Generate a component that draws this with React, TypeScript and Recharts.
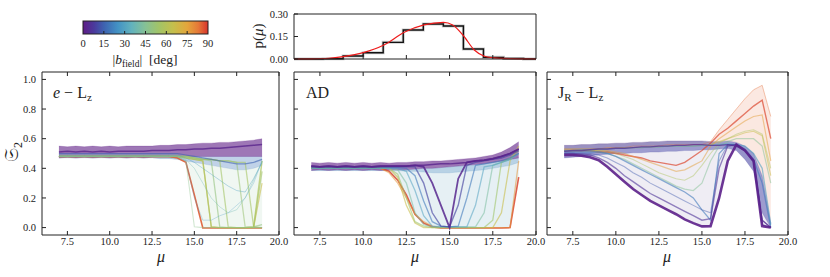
import React from 'react'
import { Area, ComposedChart, Line, XAxis, YAxis } from 'recharts'

// mu grid shared by every curve
const MU = [7, 7.5, 8, 8.5, 9, 9.5, 10, 10.5, 11, 11.5, 12, 12.5, 13, 13.5, 14, 14.5, 15, 15.5, 16, 16.5, 17, 17.5, 18, 18.5, 19]

// panel 1: e - Lz
const E_BAND_LO = [0.47, 0.475, 0.47, 0.475, 0.47, 0.475, 0.47, 0.475, 0.47, 0.475, 0.47, 0.475, 0.475, 0.475, 0.475, 0.48, 0.48, 0.48, 0.48, 0.48, 0.48, 0.48, 0.48, 0.48, 0.48]
const E_BAND_HI = [0.55, 0.545, 0.55, 0.545, 0.55, 0.545, 0.55, 0.545, 0.55, 0.55, 0.55, 0.55, 0.555, 0.555, 0.56, 0.56, 0.565, 0.57, 0.57, 0.575, 0.575, 0.58, 0.585, 0.59, 0.6]
const E_BLUE_LO = [0.47, 0.47, 0.47, 0.47, 0.47, 0.47, 0.47, 0.47, 0.47, 0.47, 0.47, 0.47, 0.465, 0.465, 0.46, 0.45, 0.44, 0.43, 0.42, 0.41, 0.4, 0.39, 0.39, 0.4, 0.42]
const E_PURPLE = [0.51, 0.515, 0.51, 0.515, 0.51, 0.515, 0.51, 0.515, 0.515, 0.515, 0.515, 0.52, 0.52, 0.52, 0.525, 0.525, 0.53, 0.53, 0.535, 0.535, 0.54, 0.545, 0.55, 0.555, 0.56]
const E_BLUE = [0.5, 0.5, 0.5, 0.5, 0.5, 0.5, 0.5, 0.5, 0.5, 0.5, 0.5, 0.5, 0.5, 0.5, 0.5, 0.49, 0.48, 0.47, 0.46, 0.45, 0.44, 0.43, 0.43, 0.44, 0.46]
const E_TEAL = [0.49, 0.49, 0.49, 0.49, 0.49, 0.49, 0.49, 0.49, 0.49, 0.49, 0.49, 0.49, 0.49, 0.49, 0.49, 0.47, 0.44, 0.4, 0.36, 0.32, 0.28, 0.25, 0.24, 0.33, 0.44]
const E_TEAL2 = [0.49, 0.49, 0.49, 0.49, 0.49, 0.49, 0.49, 0.49, 0.49, 0.49, 0.49, 0.49, 0.49, 0.49, 0.49, 0.46, 0.4, 0.3, 0.2, 0.14, 0.1, 0.12, 0.2, 0.32, 0.45]
const E_LBLUE = [0.48, 0.48, 0.48, 0.48, 0.48, 0.48, 0.48, 0.48, 0.48, 0.48, 0.48, 0.48, 0.48, 0.48, 0.48, 0.45, 0.2, 0.05, 0.05, 0.08, 0.1, 0.15, 0.2, 0.3, 0.45]
const E_GREEN1 = [0.48, 0.48, 0.48, 0.48, 0.48, 0.48, 0.48, 0.48, 0.48, 0.48, 0.48, 0.48, 0.48, 0.48, 0.48, 0.47, 0.46, 0.45, 0.005, 0, 0, 0, 0, 0.005, 0.45]
const E_GREEN2 = [0.48, 0.48, 0.48, 0.48, 0.48, 0.48, 0.48, 0.48, 0.48, 0.48, 0.48, 0.48, 0.48, 0.48, 0.48, 0.48, 0.46, 0.46, 0.45, 0.005, 0, 0, 0, 0.005, 0.02]
const E_GREEN3 = [0.48, 0.48, 0.48, 0.48, 0.48, 0.48, 0.48, 0.48, 0.48, 0.48, 0.48, 0.48, 0.48, 0.48, 0.48, 0.48, 0.47, 0.46, 0.46, 0.45, 0.005, 0, 0, 0, 0.38]
const E_GREEN4 = [0.48, 0.48, 0.48, 0.48, 0.48, 0.48, 0.48, 0.48, 0.48, 0.48, 0.48, 0.48, 0.48, 0.48, 0.48, 0.48, 0.47, 0.46, 0.46, 0.45, 0.45, 0.44, 0.005, 0, 0]
const E_GREEN5 = [0.48, 0.48, 0.48, 0.48, 0.48, 0.48, 0.48, 0.48, 0.48, 0.48, 0.48, 0.48, 0.48, 0.48, 0.48, 0.48, 0.47, 0.46, 0.46, 0.45, 0.45, 0.44, 0.44, 0.005, 0]
const E_LGREEN = [0.48, 0.48, 0.48, 0.48, 0.48, 0.48, 0.48, 0.48, 0.48, 0.48, 0.48, 0.48, 0.48, 0.48, 0.48, 0.45, 0.005, 0, 0, 0, 0, 0, 0, 0, 0]
const E_YEL = [0.48, 0.48, 0.48, 0.48, 0.48, 0.48, 0.48, 0.48, 0.48, 0.48, 0.48, 0.48, 0.48, 0.48, 0.48, 0.47, 0.46, 0.45, 0.005, 0, 0, 0, 0, 0, 0.3]
const E_RED = [0.48, 0.48, 0.48, 0.48, 0.48, 0.48, 0.48, 0.48, 0.48, 0.48, 0.48, 0.48, 0.48, 0.48, 0.47, 0.44, 0.22, -0.002, -0.003, -0.003, -0.003, -0.003, -0.003, -0.003, -0.003]

// panel 2: AD
const A_BAND_LO = [0.385, 0.39, 0.385, 0.39, 0.385, 0.39, 0.385, 0.39, 0.385, 0.39, 0.39, 0.39, 0.395, 0.4, 0.4, 0.405, 0.41, 0.415, 0.42, 0.425, 0.43, 0.44, 0.45, 0.46, 0.47]
const A_BAND_HI = [0.44, 0.435, 0.44, 0.435, 0.44, 0.435, 0.44, 0.435, 0.44, 0.435, 0.44, 0.44, 0.445, 0.445, 0.45, 0.45, 0.455, 0.46, 0.465, 0.47, 0.48, 0.49, 0.51, 0.54, 0.58]
const A_BLUE_LO = [0.385, 0.385, 0.385, 0.385, 0.385, 0.385, 0.385, 0.385, 0.385, 0.385, 0.385, 0.38, 0.38, 0.375, 0.37, 0.37, 0.37, 0.375, 0.38, 0.385, 0.39, 0.4, 0.41, 0.42, 0.44]
const A_PURPLE = [0.415, 0.41, 0.415, 0.41, 0.415, 0.41, 0.415, 0.41, 0.415, 0.415, 0.415, 0.415, 0.42, 0.42, 0.425, 0.43, 0.43, 0.435, 0.44, 0.45, 0.455, 0.465, 0.48, 0.5, 0.53]
const A_V1 = [0.415, 0.41, 0.415, 0.41, 0.415, 0.41, 0.415, 0.41, 0.415, 0.415, 0.415, 0.415, 0.42, 0.41, 0.3, 0.15, 0.0, 0.33, 0.44, 0.45, 0.455, 0.465, 0.48, 0.5, 0.53]
const A_V2 = [0.41, 0.41, 0.41, 0.41, 0.41, 0.41, 0.41, 0.41, 0.41, 0.41, 0.41, 0.41, 0.41, 0.3, 0.1, 0.01, 0.005, 0.15, 0.42, 0.44, 0.45, 0.46, 0.47, 0.49, 0.52]
const A_V3 = [0.405, 0.405, 0.405, 0.405, 0.405, 0.405, 0.405, 0.405, 0.405, 0.405, 0.405, 0.4, 0.35, 0.18, 0.04, 0.01, 0.005, 0.01, 0.2, 0.42, 0.43, 0.44, 0.45, 0.47, 0.5]
const A_V4 = [0.4, 0.4, 0.4, 0.4, 0.4, 0.4, 0.4, 0.4, 0.4, 0.4, 0.4, 0.38, 0.25, 0.08, 0.01, 0.005, 0.005, 0.005, 0.005, 0.15, 0.41, 0.42, 0.44, 0.46, 0.5]
const A_V5 = [0.4, 0.4, 0.4, 0.4, 0.4, 0.4, 0.4, 0.4, 0.4, 0.4, 0.39, 0.3, 0.1, 0.02, 0.005, 0.005, 0.005, 0.005, 0.005, 0.005, 0.1, 0.42, 0.44, 0.46, 0.5]
const A_V6 = [0.4, 0.4, 0.4, 0.4, 0.4, 0.4, 0.4, 0.4, 0.4, 0.4, 0.36, 0.2, 0.04, 0.01, 0, 0, 0, 0, 0, 0, 0, 0.05, 0.44, 0.47, 0.52]
const A_V7 = [0.4, 0.4, 0.4, 0.4, 0.4, 0.4, 0.4, 0.4, 0.4, 0.4, 0.34, 0.15, 0.03, 0, 0, 0, 0, 0, 0, 0, 0, 0, 0.1, 0.45, 0.55]
const A_V8 = [0.4, 0.4, 0.4, 0.4, 0.4, 0.4, 0.4, 0.4, 0.4, 0.37, 0.3, 0.2, 0.09, 0.04, 0.01, 0, 0, 0, 0, 0, 0, 0, 0, 0, 0.45]
const A_RED = [0.4, 0.4, 0.4, 0.4, 0.4, 0.4, 0.4, 0.4, 0.4, 0.38, 0.32, 0.22, 0.09, 0.03, 0.005, -0.003, -0.003, -0.003, -0.003, -0.003, -0.003, -0.003, -0.003, 0, 0.34]

// panel 3: JR - Lz
const J_BAND_LO = [0.47, 0.475, 0.48, 0.485, 0.49, 0.495, 0.5, 0.5, 0.505, 0.505, 0.51, 0.51, 0.515, 0.515, 0.52, 0.52, 0.525, 0.525, 0.53, 0.535, 0.52, 0.46, 0.38, 0.1, 0.0]
const J_BAND_HI = [0.555, 0.555, 0.56, 0.56, 0.565, 0.565, 0.57, 0.57, 0.575, 0.575, 0.58, 0.58, 0.585, 0.585, 0.585, 0.585, 0.585, 0.58, 0.58, 0.585, 0.575, 0.55, 0.5, 0.35, 0.03]
const J_PURPLE = [0.515, 0.52, 0.52, 0.525, 0.53, 0.53, 0.535, 0.535, 0.54, 0.545, 0.545, 0.55, 0.55, 0.555, 0.555, 0.56, 0.56, 0.555, 0.555, 0.56, 0.55, 0.52, 0.45, 0.05, 0.0]
const J_L1 = [0.49, 0.49, 0.485, 0.475, 0.455, 0.41, 0.36, 0.31, 0.26, 0.22, 0.18, 0.15, 0.12, 0.09, 0.055, 0.03, 0.008, 0.01, 0.2, 0.45, 0.56, 0.52, 0.45, 0.01, 0.0]
const J_L2 = [0.5, 0.5, 0.495, 0.49, 0.47, 0.44, 0.4, 0.35, 0.31, 0.27, 0.23, 0.2, 0.17, 0.14, 0.11, 0.08, 0.05, 0.06, 0.4, 0.55, 0.56, 0.52, 0.45, 0.02, 0.0]
const J_L11 = [0.5, 0.5, 0.5, 0.5, 0.49, 0.47, 0.44, 0.41, 0.37, 0.34, 0.3, 0.27, 0.24, 0.21, 0.18, 0.15, 0.12, 0.1, 0.45, 0.56, 0.56, 0.52, 0.44, 0.05, 0.0]
const J_L3 = [0.51, 0.51, 0.51, 0.51, 0.51, 0.5, 0.48, 0.45, 0.42, 0.39, 0.36, 0.33, 0.3, 0.27, 0.24, 0.2, 0.12, 0.05, 0.5, 0.56, 0.56, 0.53, 0.46, 0.3, 0.0]
const J_L10 = [0.52, 0.52, 0.525, 0.525, 0.53, 0.53, 0.535, 0.535, 0.54, 0.54, 0.545, 0.545, 0.55, 0.55, 0.55, 0.55, 0.555, 0.555, 0.56, 0.565, 0.56, 0.55, 0.5, 0.4, 0.02]
const J_L4 = [0.52, 0.52, 0.52, 0.52, 0.51, 0.5, 0.48, 0.46, 0.43, 0.4, 0.37, 0.34, 0.31, 0.28, 0.26, 0.25, 0.3, 0.45, 0.55, 0.58, 0.6, 0.6, 0.6, 0.55, 0.3]
const J_L5 = [0.52, 0.52, 0.52, 0.52, 0.52, 0.51, 0.5, 0.48, 0.46, 0.43, 0.4, 0.37, 0.35, 0.33, 0.32, 0.35, 0.42, 0.5, 0.57, 0.6, 0.63, 0.65, 0.66, 0.63, 0.4]
const J_L9 = [0.53, 0.53, 0.53, 0.53, 0.53, 0.535, 0.535, 0.54, 0.54, 0.54, 0.545, 0.545, 0.55, 0.55, 0.55, 0.55, 0.555, 0.56, 0.58, 0.6, 0.62, 0.64, 0.65, 0.62, 0.35]
const J_L6 = [0.52, 0.52, 0.52, 0.52, 0.52, 0.52, 0.51, 0.5, 0.48, 0.46, 0.44, 0.42, 0.4, 0.38, 0.39, 0.42, 0.45, 0.55, 0.6, 0.64, 0.68, 0.72, 0.75, 0.76, 0.45]
const J_L8 = [0.53, 0.53, 0.53, 0.53, 0.53, 0.54, 0.54, 0.54, 0.55, 0.55, 0.55, 0.55, 0.56, 0.56, 0.56, 0.56, 0.56, 0.58, 0.66, 0.73, 0.8, 0.87, 0.93, 0.96, 0.75]
const J_L7 = [0.52, 0.52, 0.52, 0.52, 0.51, 0.51, 0.5, 0.49, 0.48, 0.47, 0.45, 0.44, 0.43, 0.42, 0.44, 0.48, 0.52, 0.57, 0.63, 0.67, 0.72, 0.77, 0.82, 0.86, 0.6]

// inset: histogram of mu and its smoothed density
const HIST_EDGES = [6, 7.68, 8.84, 10.0, 11.16, 12.32, 13.48, 14.64, 15.8, 16.96, 18.12, 19.28, 20]
const HIST_P = [0, 0.002, 0.02, 0.042, 0.111, 0.193, 0.233, 0.22, 0.067, 0.011, 0.003, 0, 0]
const KDE_MU = [6, 7, 8, 8.84, 10, 11.2, 12.38, 13.52, 14.65, 15.18, 15.77, 16.43, 16.98, 17.5, 18.5, 19.5, 20]
const KDE_P = [0, 0.001, 0.005, 0.016, 0.042, 0.093, 0.178, 0.227, 0.244, 0.227, 0.16, 0.06, 0.02, 0.008, 0.002, 0.001, 0]

const CBAR_TICKS = [0, 15, 30, 45, 60, 75, 90]
const X_TICKS = [7.5, 10, 12.5, 15, 17.5, 20]
const Y_TICKS = [0, 0.2, 0.4, 0.6, 0.8, 1.0]

const STOPS: [number, string][] = [
  [0, '#5e1c86'], [8, '#4a3a9c'], [15, '#3e62b0'], [25, '#4392c4'], [35, '#62b2bd'],
  [45, '#86c195'], [55, '#a3c466'], [65, '#c5bf4c'], [75, '#e3a63c'], [83, '#e57838'], [90, '#d8342c'],
]

function cmap(d: number) {
  for (let i = 0; i < STOPS.length - 1; i++) {
    const [d0, c0] = STOPS[i]
    const [d1, c1] = STOPS[i + 1]
    if (d <= d1) {
      const t = (d - d0) / (d1 - d0)
      const a = [1, 3, 5].map((k) => parseInt(c0.slice(k, k + 2), 16))
      const b = [1, 3, 5].map((k) => parseInt(c1.slice(k, k + 2), 16))
      return `rgb(${a.map((v, j) => Math.round(v + (b[j] - v) * t)).join(',')})`
    }
  }
  return STOPS[STOPS.length - 1][1]
}

type Band = { key: string; lo: number[]; hi: number[]; fill: string; op: number }
type Curve = { key: string; vals: number[]; deg: number; w: number; op: number }

const FONT = '"Liberation Serif", "DejaVu Serif", serif'
const INK = '#222'
const tickFont = { fontSize: 10.5, fill: INK, fontFamily: FONT }
const blank = () => ''

function buildRows(bands: Band[], curves: Curve[]) {
  return MU.map((mu, i) => {
    const r: Record<string, number | number[]> = { mu }
    bands.forEach((b) => (r[b.key] = [b.lo[i], b.hi[i]]))
    curves.forEach((c) => (r[c.key] = c.vals[i]))
    return r
  })
}

interface PanelProps {
  left: number
  width: number
  mLeft: number
  mRight: number
  under: Band[]
  curves: Curve[]
  over: Band[]
  top: Curve[]
  yLabels?: boolean
}

// axes are 1px thick boxes, so the margins are one less than the plot offsets
function Panel({ left, width, mLeft, mRight, under, curves, over, top, yLabels }: PanelProps) {
  const rows = buildRows([...under, ...over], [...curves, ...top])
  const area = (b: Band) => (
    <Area key={b.key} dataKey={b.key} type="linear" stroke={b.fill} strokeOpacity={b.op * 0.6} strokeWidth={0.6}
      fill={b.fill} fillOpacity={b.op} isAnimationActive={false} dot={false} activeDot={false} />
  )
  const line = (c: Curve) => (
    <Line key={c.key} dataKey={c.key} type="linear" stroke={cmap(c.deg)} strokeWidth={c.w} strokeOpacity={c.op}
      dot={false} activeDot={false} isAnimationActive={false} />
  )
  return (
    <div style={{ position: 'absolute', left, top: 0 }}>
      <ComposedChart width={width} height={277} data={rows}
        margin={{ top: 71, bottom: 41, left: mLeft - 1, right: mRight - 1 }}>
        <XAxis type="number" dataKey="mu" domain={[6, 20]} ticks={X_TICKS} interval={0} height={1}
          tickFormatter={(v: number) => v.toFixed(1)} tickSize={-4} tickMargin={7}
          axisLine={{ stroke: INK }} tickLine={{ stroke: INK }} tick={tickFont} />
        <XAxis xAxisId="t" orientation="top" type="number" dataKey="mu" domain={[6, 20]} ticks={X_TICKS} interval={0}
          height={1} tickFormatter={blank} tickSize={-4} axisLine={{ stroke: INK }} tickLine={{ stroke: INK }} />
        <YAxis type="number" domain={[-0.05, 1.05]} ticks={Y_TICKS} interval={0} width={1}
          tickFormatter={yLabels ? (v: number) => v.toFixed(1) : blank} tickSize={-4} tickMargin={10}
          axisLine={{ stroke: INK }} tickLine={{ stroke: INK }} tick={tickFont} />
        <YAxis yAxisId="r" orientation="right" type="number" domain={[-0.05, 1.05]} ticks={Y_TICKS} interval={0}
          width={1} tickFormatter={blank} tickSize={-4} axisLine={{ stroke: INK }} tickLine={{ stroke: INK }} />
        {under.map(area)}
        {curves.map(line)}
        {over.map(area)}
        {top.map(line)}
      </ComposedChart>
    </div>
  )
}

const E_UNDER: Band[] = [
  { key: 'haze', lo: E_RED, hi: E_BLUE_LO, fill: '#9fcfae', op: 0.16 },
  { key: 'blue', lo: E_BLUE_LO, hi: E_BAND_LO, fill: '#4a7fbc', op: 0.35 },
]
const E_CURVES: Curve[] = [
  { key: 'red', vals: E_RED, deg: 86, w: 1.6, op: 0.9 },
  { key: 'yel', vals: E_YEL, deg: 66, w: 1.2, op: 0.6 },
  { key: 'g5', vals: E_GREEN5, deg: 56, w: 1.3, op: 0.6 },
  { key: 'g4', vals: E_GREEN4, deg: 52, w: 1.3, op: 0.55 },
  { key: 'g3', vals: E_GREEN3, deg: 55, w: 1.3, op: 0.6 },
  { key: 'g2', vals: E_GREEN2, deg: 50, w: 1.3, op: 0.6 },
  { key: 'g1', vals: E_GREEN1, deg: 58, w: 1.4, op: 0.7 },
  { key: 'lg', vals: E_LGREEN, deg: 47, w: 1.1, op: 0.4 },
  { key: 'lb', vals: E_LBLUE, deg: 28, w: 1, op: 0.3 },
  { key: 't2', vals: E_TEAL2, deg: 38, w: 1, op: 0.35 },
  { key: 't1', vals: E_TEAL, deg: 30, w: 1, op: 0.4 },
  { key: 'b', vals: E_BLUE, deg: 15, w: 1.2, op: 0.6 },
]
const E_OVER: Band[] = [{ key: 'band', lo: E_BAND_LO, hi: E_BAND_HI, fill: '#5e1c86', op: 0.6 }]
const E_TOP: Curve[] = [{ key: 'p', vals: E_PURPLE, deg: 2, w: 1.5, op: 0.8 }]

const A_UNDER: Band[] = [
  { key: 'haze', lo: A_RED, hi: A_BLUE_LO, fill: '#b7d3e0', op: 0.35 },
  { key: 'blue', lo: A_BLUE_LO, hi: A_BAND_LO, fill: '#4d8fbf', op: 0.4 },
]
const A_CURVES: Curve[] = [
  { key: 'red', vals: A_RED, deg: 88, w: 1.6, op: 0.85 },
  { key: 'v8', vals: A_V8, deg: 78, w: 1.3, op: 0.55 },
  { key: 'v7', vals: A_V7, deg: 66, w: 1.3, op: 0.6 },
  { key: 'v6', vals: A_V6, deg: 54, w: 1.3, op: 0.6 },
  { key: 'v5', vals: A_V5, deg: 42, w: 1.3, op: 0.55 },
  { key: 'v4', vals: A_V4, deg: 30, w: 1.3, op: 0.55 },
  { key: 'v3', vals: A_V3, deg: 20, w: 1.3, op: 0.6 },
  { key: 'v2', vals: A_V2, deg: 10, w: 1.4, op: 0.65 },
]
const A_OVER: Band[] = [{ key: 'band', lo: A_BAND_LO, hi: A_BAND_HI, fill: '#5e1c86', op: 0.6 }]
const A_TOP: Curve[] = [
  { key: 'v1', vals: A_V1, deg: 3, w: 1.8, op: 0.85 },
  { key: 'p', vals: A_PURPLE, deg: 2, w: 1.5, op: 0.8 },
]

const J_UNDER: Band[] = [
  { key: 'haze', lo: J_L1, hi: J_BAND_LO, fill: '#c9c3dc', op: 0.3 },
  { key: 'hot', lo: J_BAND_HI, hi: J_L8, fill: '#f2b49a', op: 0.3 },
]
const J_CURVES: Curve[] = [
  { key: 'l8', vals: J_L8, deg: 84, w: 1, op: 0.35 },
  { key: 'l7', vals: J_L7, deg: 88, w: 1.4, op: 0.7 },
  { key: 'l6', vals: J_L6, deg: 76, w: 1.2, op: 0.5 },
  { key: 'l9', vals: J_L9, deg: 66, w: 1.2, op: 0.5 },
  { key: 'l5', vals: J_L5, deg: 58, w: 1.1, op: 0.45 },
  { key: 'l4', vals: J_L4, deg: 45, w: 1.2, op: 0.5 },
  { key: 'l10', vals: J_L10, deg: 30, w: 1.3, op: 0.6 },
  { key: 'l3', vals: J_L3, deg: 20, w: 1.3, op: 0.6 },
  { key: 'l11', vals: J_L11, deg: 14, w: 1.1, op: 0.45 },
]
const J_OVER: Band[] = [{ key: 'band', lo: J_BAND_LO, hi: J_BAND_HI, fill: '#4d4aa8', op: 0.55 }]
const J_TOP: Curve[] = [
  { key: 'l2', vals: J_L2, deg: 6, w: 1.4, op: 0.6 },
  { key: 'l1', vals: J_L1, deg: 1, w: 2.6, op: 0.9 },
  { key: 'p', vals: J_PURPLE, deg: 3, w: 1.4, op: 0.7 },
]

function Inset() {
  const hist = HIST_EDGES.map((mu, i) => ({ mu, p: HIST_P[i] }))
  const kde = KDE_MU.map((mu, i) => ({ mu, p: KDE_P[i] }))
  const yT = [0, 0.15, 0.3]
  const xT = [10, 12.5, 15, 17.5]
  return (
    <div style={{ position: 'absolute', left: 240, top: 0 }}>
      <ComposedChart width={300} height={70} margin={{ top: 13, bottom: 10, left: 53, right: 3 }}>
        <XAxis type="number" dataKey="mu" domain={[6, 20]} ticks={xT} interval={0} height={1} tickFormatter={blank}
          tickSize={-4} axisLine={{ stroke: INK }} tickLine={{ stroke: INK }} />
        <XAxis xAxisId="t" orientation="top" type="number" dataKey="mu" domain={[6, 20]} ticks={xT} interval={0}
          height={1} tickFormatter={blank} tickSize={-4} axisLine={{ stroke: INK }} tickLine={{ stroke: INK }} />
        <YAxis type="number" domain={[0, 0.3]} ticks={yT} interval={0} width={1}
          tickFormatter={(v: number) => v.toFixed(2)} tickSize={-4} tickMargin={10}
          axisLine={{ stroke: INK }} tickLine={{ stroke: INK }} tick={tickFont} />
        <YAxis yAxisId="r" orientation="right" type="number" domain={[0, 0.3]} ticks={yT} interval={0} width={1}
          tickFormatter={blank} tickSize={-4} axisLine={{ stroke: INK }} tickLine={{ stroke: INK }} />
        <Line data={hist} dataKey="p" type="stepAfter" stroke="#999" strokeWidth={3} strokeOpacity={0.5}
          dot={false} activeDot={false} isAnimationActive={false} />
        <Line data={hist} dataKey="p" type="stepAfter" stroke="#111" strokeWidth={1.4}
          dot={false} activeDot={false} isAnimationActive={false} />
        <Line data={kde} dataKey="p" type="monotone" stroke="#ee1c1c" strokeWidth={1.2}
          dot={false} activeDot={false} isAnimationActive={false} />
      </ComposedChart>
    </div>
  )
}

function Overlay() {
  const cbX = 83
  const cbW = 125
  return (
    <svg width={830} height={277} style={{ position: 'absolute', left: 0, top: 0, pointerEvents: 'none' }}
      fontFamily={FONT} fill={INK}>
      <defs>
        <linearGradient id="cbar" x1="0" x2="1" y1="0" y2="0">
          {STOPS.map(([d, c]) => (
            <stop key={d} offset={`${(d / 90) * 100}%`} stopColor={c} />
          ))}
        </linearGradient>
      </defs>
      <rect x={cbX} y={21} width={cbW} height={13} fill="url(#cbar)" stroke={INK} strokeWidth={1} />
      {CBAR_TICKS.map((d) => {
        const x = cbX + (d / 90) * cbW
        return (
          <g key={d}>
            {d > 0 && d < 90 && <line x1={x} x2={x} y1={34} y2={31} stroke={INK} />}
            <text x={x} y={46.5} fontSize={10.5} textAnchor="middle">{d}</text>
          </g>
        )
      })}
      <text x={145} y={64} fontSize={13.5} textAnchor="middle">
        |<tspan fontStyle="italic">b</tspan>
        <tspan fontSize={9.5} dy={3}>field</tspan>
        <tspan dy={-3} xmlSpace="preserve">|  [deg]</tspan>
      </text>

      <text transform="translate(263,36) rotate(-90)" fontSize={15} textAnchor="middle">
        p(<tspan fontStyle="italic">μ</tspan>)
      </text>

      <text transform="translate(18,152) rotate(-90)" fontSize={20} textAnchor="middle">
        𝔖<tspan fontSize={12} dy={4}>2</tspan>
      </text>

      <text x={53} y={98} fontSize={16}>
        <tspan fontStyle="italic">e</tspan> − L<tspan fontSize={11} dy={3}>z</tspan>
      </text>
      <text x={306} y={98} fontSize={16}>AD</text>
      <text x={558} y={98} fontSize={16}>
        J<tspan fontSize={11} dy={3}>R</tspan>
        <tspan dy={-3}> − L</tspan>
        <tspan fontSize={11} dy={3}>z</tspan>
      </text>

      {[161, 415, 667].map((x) => (
        <text key={x} x={x} y={262} fontSize={16} fontStyle="italic" textAnchor="middle">μ</text>
      ))}
    </svg>
  )
}

export default function App() {
  return (
    <div style={{ position: 'absolute', left: 0, top: 0, width: 830, height: 277, background: '#fff' }}>
      <Panel left={0} width={290} mLeft={42} mRight={11} under={E_UNDER} curves={E_CURVES} over={E_OVER} top={E_TOP} yLabels />
      <Panel left={250} width={300} mLeft={44} mRight={14} under={A_UNDER} curves={A_CURVES} over={A_OVER} top={A_TOP} />
      <Panel left={500} width={330} mLeft={47} mRight={42} under={J_UNDER} curves={J_CURVES} over={J_OVER} top={J_TOP} />
      <Inset />
      <Overlay />
    </div>
  )
}
